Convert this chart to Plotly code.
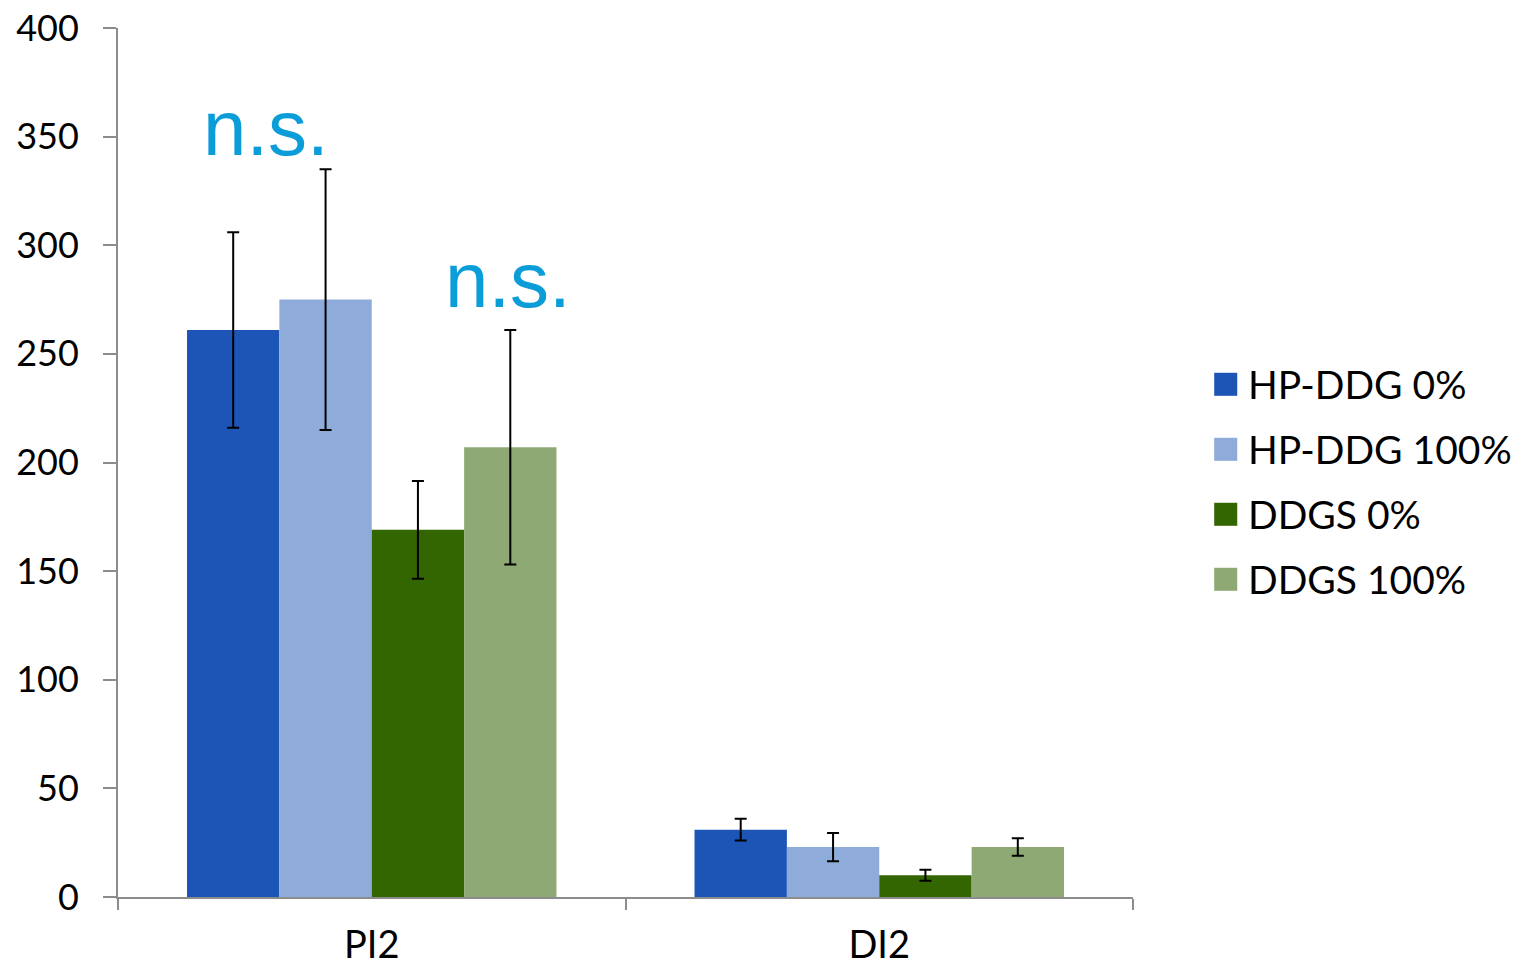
import plotly.graph_objects as go

# Categories and series
categories = ["PI2", "DI2"]
series_names = ["HP-DDG 0%", "HP-DDG 100%", "DDGS 0%", "DDGS 100%"]
hp_ddg_0 = [261, 31]
hp_ddg_100 = [275, 23]
ddgs_0 = [169, 10]
ddgs_100 = [207, 23]
err_hp_ddg_0 = [45, 5]
err_hp_ddg_100 = [60, 6.5]
err_ddgs_0 = [22.5, 2.5]
err_ddgs_100 = [54, 4]
y_ticks = [0, 50, 100, 150, 200, 250, 300, 350, 400]

# Significance labels: (y position, text)
ns_labels = [(333, "n.s."), (263, "n.s.")]

colors = ["#1c55b6", "#8eabd9", "#336600", "#8fa974"]
values = [hp_ddg_0, hp_ddg_100, ddgs_0, ddgs_100]
errors = [err_hp_ddg_0, err_hp_ddg_100, err_ddgs_0, err_ddgs_100]

FONT = "Lato"

fig = go.Figure()
for name, vals, errs, col in zip(series_names, values, errors, colors):
    fig.add_trace(go.Bar(
        name=name, x=categories, y=vals,
        marker=dict(color=col, line=dict(width=0)),
        error_y=dict(type="data", array=errs, color="black", thickness=2, width=6),
        showlegend=False,
    ))

# Legend drawn as swatches and labels to the right of the plot
leg_x = 1.080
leg_y0 = 0.590
leg_step = 0.0748
sw_w = 0.0227
sw_h = 0.0265
for i, (name, col) in enumerate(zip(series_names, colors)):
    yc = leg_y0 - i * leg_step
    fig.add_shape(type="rect", xref="paper", yref="paper",
                  x0=leg_x, x1=leg_x + sw_w, y0=yc - sw_h / 2, y1=yc + sw_h / 2,
                  fillcolor=col, line=dict(width=0))
    fig.add_annotation(xref="paper", yref="paper", x=leg_x + 0.0310, y=yc,
                       text=name, showarrow=False, xanchor="left", yanchor="middle",
                       font=dict(family=FONT, size=39, color="black"))

# n.s. annotations over the PI2 group
for (yv, txt), shift in zip(ns_labels, [-106, 136]):
    fig.add_annotation(x=0, xshift=shift, y=yv, text=txt,
                       showarrow=False, xanchor="center", yanchor="bottom",
                       font=dict(family="Liberation Sans", size=78, color="#0a9dd8"))

fig.update_layout(
    width=1525, height=969,
    margin=dict(l=118, r=392, t=28, b=72, autoexpand=False),
    paper_bgcolor="white", plot_bgcolor="white",
    barmode="group", bargap=0.272, bargroupgap=0,
    font=dict(family=FONT, size=36, color="black"),
)
fig.update_xaxes(
    type="category", showline=True, linecolor="#8c8c8c", linewidth=2,
    ticks="outside", tickson="boundaries", ticklen=11, tickcolor="#8c8c8c", tickwidth=2,
    showgrid=False, tickfont=dict(family=FONT, size=38, color="black"),
    ticklabelstandoff=13, automargin=False,
)
fig.update_yaxes(
    range=[0, 400], tickvals=y_ticks, showline=True, linecolor="#8c8c8c", linewidth=2,
    ticks="outside", ticklen=13, tickcolor="#8c8c8c", tickwidth=2,
    showgrid=False, zeroline=False, tickfont=dict(family=FONT, size=36, color="black"),
    ticklabelstandoff=17, automargin=False,
)

fig.write_html("out.html")
